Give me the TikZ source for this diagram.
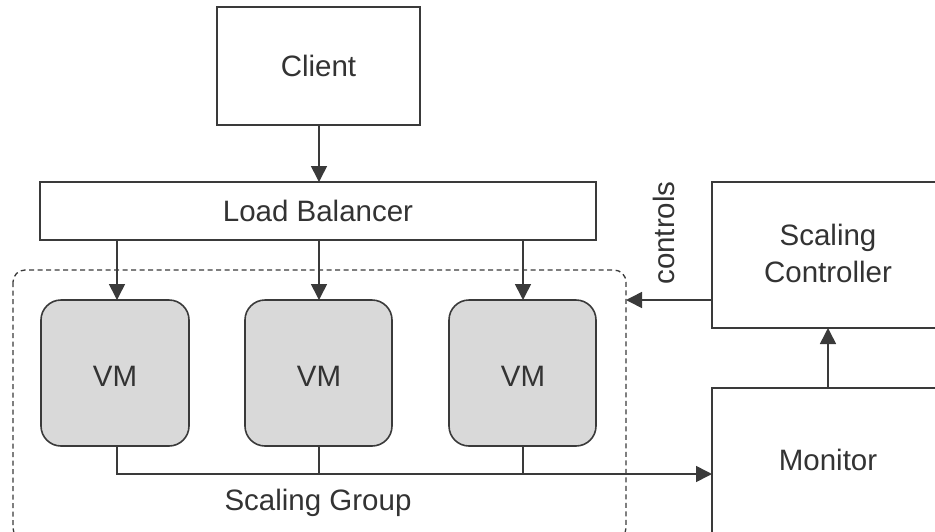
\documentclass[tikz,border=0pt]{standalone}
\usepackage{fontspec}
\setmainfont{Liberation Sans}
\usetikzlibrary{arrows.meta}
\definecolor{ln}{HTML}{3A3A3A}
\definecolor{vmfill}{HTML}{D9D9D9}
\definecolor{txt}{HTML}{333333}
\begin{document}
\begin{tikzpicture}[x=1pt,y=-1pt,
  every node/.style={font=\fontsize{29.5}{35}\selectfont, text=txt},
  box/.style={draw=ln, line width=1.6pt, fill=white},
  vmbox/.style={draw=ln, line width=1.6pt, fill=vmfill, rounded corners=20pt},
  conn/.style={draw=ln, line width=1.6pt},
  arr/.style={conn, -{Triangle[length=16pt,width=16pt]}}
]
\useasboundingbox (0,0) rectangle (935,531);
\clip (0,0) rectangle (935,531);
% group
\draw[ln, line width=1.3pt, dash pattern=on 5pt off 3.5pt, rounded corners=12pt] (13,270) rectangle (626,540);
\node (grouplabel) at (318,503) {Scaling Group};
% nodes
\draw[box] (217,7) rectangle (420,125);
\node (client) at (318.5,66) {Client};
\coordinate (clientS) at (319,125);
\draw[box] (40,182) rectangle (596,240);
\node (lb) at (318,211) {Load Balancer};
\coordinate (lbN) at (319,182);
\coordinate (lb1) at (117,240);
\coordinate (lb2) at (319,240);
\coordinate (lb3) at (523,240);
\draw[vmbox] (41,300) rectangle (189,446);
\node (vm1) at (115,376) {VM};
\draw[vmbox] (245,300) rectangle (392,446);
\node (vm2) at (319,376) {VM};
\draw[vmbox] (449,300) rectangle (596,446);
\node (vm3) at (523,376) {VM};
\coordinate (vm1N) at (117,300);
\coordinate (vm2N) at (319,300);
\coordinate (vm3N) at (523,300);
\coordinate (vm1S) at (117,446);
\coordinate (vm2S) at (319,446);
\coordinate (vm3S) at (523,446);
\coordinate (j2) at (319,474);
\coordinate (j3) at (523,474);
\draw[box] (712,182) rectangle (950,328);
\node[align=center, font=\fontsize{29.5}{37}\selectfont] (ctrl) at (828,253) {Scaling\\Controller};
\coordinate (ctrlW) at (712,300);
\coordinate (ctrlS) at (828,328);
\coordinate (groupE) at (626,300);
\draw[box] (712,388) rectangle (950,560);
\node (mon) at (828,460) {Monitor};
\coordinate (monN) at (828,388);
\coordinate (monW) at (712,474);
\node[rotate=90] (controls) at (664,233) {controls};
% connectors
\draw[arr] (clientS) -- (lbN);
\draw[arr] (lb1) -- (vm1N);
\draw[arr] (lb2) -- (vm2N);
\draw[arr] (lb3) -- (vm3N);
\draw[arr] (vm1S) |- (monW);
\draw[conn] (vm2S) -- (j2);
\draw[conn] (vm3S) -- (j3);
\draw[arr] (ctrlW) -- (groupE);
\draw[arr] (monN) -- (ctrlS);
\end{tikzpicture}
\end{document}
